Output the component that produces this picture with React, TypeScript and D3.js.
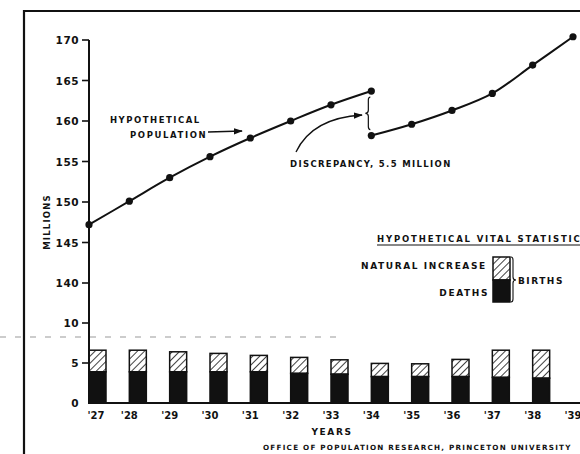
import React from "react";
import * as d3 from "d3";

const yearsBefore = [1927, 1928, 1929, 1930, 1931, 1932, 1933, 1934];
const popBefore = [147.2, 150.1, 153.0, 155.6, 157.9, 160.0, 162.0, 163.7];
const yearsAfter = [1934, 1935, 1936, 1937, 1938, 1939];
const popAfter = [158.2, 159.6, 161.3, 163.4, 166.9, 170.4];

const barYears = [1927, 1928, 1929, 1930, 1931, 1932, 1933, 1934, 1935, 1936, 1937, 1938];
const deaths = [3.9, 3.9, 3.9, 3.9, 3.9, 3.7, 3.6, 3.3, 3.3, 3.3, 3.2, 3.1];
const births = [6.6, 6.6, 6.4, 6.2, 5.95, 5.7, 5.4, 4.95, 4.9, 5.45, 6.6, 6.6];

const yTicks = [0, 5, 10, 140, 145, 150, 155, 160, 165, 170];
const yTickLabels = ["0", "5", "10", "140", "145", "150", "155", "160", "165", "170"];
const xTickYears = [1927, 1928, 1929, 1930, 1931, 1932, 1933, 1934, 1935, 1936, 1937, 1938, 1939];
const xTickLabels = ["'27", "'28", "'29", "'30", "'31", "'32", "'33", "'34", "'35", "'36", "'37", "'38", "'39"];

const FONT = "'DejaVu Sans', sans-serif";

export default function App() {
  const x = d3.scaleLinear().domain([1927, 1939]).range([89, 573]);
  const y = d3.scaleLinear().domain([0, 10, 140, 170]).range([403, 323, 283, 40]);

  const line = d3
    .line<[number, number]>()
    .x((d) => x(d[0]))
    .y((d) => y(d[1]))
    .curve(d3.curveCatmullRom.alpha(0.5));

  const before: [number, number][] = yearsBefore.map((yr, i) => [yr, popBefore[i]]);
  const after: [number, number][] = yearsAfter.map((yr, i) => [yr, popAfter[i]]);
  const barW = 17;

  // discrepancy brace
  const bx = x(1934) - 3;
  const by1 = y(popBefore[popBefore.length - 1]) + 6;
  const by2 = y(popAfter[0]) - 6;
  const bym = (by1 + by2) / 2;
  const braceL = `M${bx + 2},${by1} Q${bx},${by1} ${bx},${by1 + 3} L${bx},${bym - 3} Q${bx},${bym} ${bx - 3},${bym} Q${bx},${bym} ${bx},${bym + 3} L${bx},${by2 - 3} Q${bx},${by2} ${bx + 2},${by2}`;

  // legend
  const lx = 493, ly1 = 257, lym = 280, ly2 = 302, lw = 17;
  const rbx = lx + lw + 3;
  const braceR = `M${rbx - 2},${ly1} Q${rbx},${ly1} ${rbx},${ly1 + 3} L${rbx},${lym - 3} Q${rbx},${lym} ${rbx + 3},${lym} Q${rbx},${lym} ${rbx},${lym + 3} L${rbx},${ly2 - 3} Q${rbx},${ly2} ${rbx - 2},${ly2}`;

  const txt = { fontFamily: FONT, fontWeight: 700 as const, fill: "#111" };

  return (
    <svg
      width={580}
      height={454}
      style={{ position: "absolute", left: 0, top: 0, background: "#fff" }}
    >
      <defs>
        <pattern id="hatch" width="5" height="5" patternUnits="userSpaceOnUse" patternTransform="rotate(45)">
          <rect width="5" height="5" fill="#fff" />
          <line x1="0" y1="0" x2="0" y2="5" stroke="#111" strokeWidth="1.6" />
        </pattern>
        <marker id="arr" viewBox="0 0 10 10" refX="9" refY="5" markerWidth="7" markerHeight="7" orient="auto">
          <path d="M0,1.5 L10,5 L0,8.5 Z" fill="#111" />
        </marker>
      </defs>

      {/* frame */}
      <line x1={24} y1={11} x2={580} y2={11} stroke="#111" strokeWidth={2.2} />
      <line x1={24} y1={10} x2={24} y2={454} stroke="#111" strokeWidth={2.2} />

      {/* break line */}
      <line x1={0} y1={337} x2={340} y2={337} stroke="#999" strokeWidth={1} strokeDasharray="6 9" />

      {/* bars */}
      {barYears.map((yr, i) => (
        <g key={yr}>
          <rect x={x(yr)} y={y(births[i])} width={barW} height={y(deaths[i]) - y(births[i])} fill="url(#hatch)" stroke="#111" strokeWidth={1.5} />
          <rect x={x(yr)} y={y(deaths[i])} width={barW} height={y(0) - y(deaths[i])} fill="#111" stroke="#111" strokeWidth={1.5} />
        </g>
      ))}

      {/* axes */}
      <line x1={89} y1={y(170)} x2={89} y2={y(0)} stroke="#111" strokeWidth={2} />
      <line x1={88} y1={y(0)} x2={580} y2={y(0)} stroke="#111" strokeWidth={2.2} />
      {yTicks.map((t, i) => (
        <g key={t}>
          {t !== 0 && <line x1={82} y1={y(t)} x2={89} y2={y(t)} stroke="#111" strokeWidth={1.6} />}
          <text x={79} y={y(t) + 4} textAnchor="end" fontSize={10.5} {...txt} style={{ letterSpacing: "0.5px" }}>
            {yTickLabels[i]}
          </text>
        </g>
      ))}
      {xTickYears.map((yr, i) => (
        <text key={yr} x={x(yr) + (i === 0 ? 7 : 0)} y={419} textAnchor="middle" fontSize={10} {...txt}>
          {xTickLabels[i]}
        </text>
      ))}

      <text transform="translate(50,222) rotate(-90)" textAnchor="middle" fontSize={8.5} {...txt} style={{ letterSpacing: "1.2px" }}>
        MILLIONS
      </text>
      <text x={332} y={435} textAnchor="middle" fontSize={9} {...txt} style={{ letterSpacing: "1.6px" }}>
        YEARS
      </text>
      <text x={263} y={450} fontSize={7.2} {...txt} style={{ letterSpacing: "1.25px" }}>
        OFFICE OF POPULATION RESEARCH, PRINCETON UNIVERSITY
      </text>

      {/* population line */}
      <path d={line(before) || ""} fill="none" stroke="#111" strokeWidth={2} />
      <path d={line(after) || ""} fill="none" stroke="#111" strokeWidth={2} />
      {before.concat(after).map((d, i) => (
        <circle key={i} cx={x(d[0])} cy={y(d[1])} r={3.6} fill="#111" />
      ))}

      {/* annotations */}
      <text x={110} y={123} fontSize={8.5} {...txt} style={{ letterSpacing: "1.5px" }}>
        HYPOTHETICAL
      </text>
      <text x={130} y={138} fontSize={8.5} {...txt} style={{ letterSpacing: "1.6px" }}>
        POPULATION
      </text>
      <line x1={208} y1={132} x2={242} y2={131} stroke="#111" strokeWidth={1.3} markerEnd="url(#arr)" />

      <path d={braceL} fill="none" stroke="#111" strokeWidth={1.2} />
      <path d="M296,152 Q312,118 362,115" fill="none" stroke="#111" strokeWidth={1.3} markerEnd="url(#arr)" />
      <text x={290} y={167} fontSize={8.5} {...txt} style={{ letterSpacing: "1.35px" }}>
        DISCREPANCY, 5.5 MILLION
      </text>

      {/* legend */}
      <text x={377} y={242} fontSize={8.5} {...txt} style={{ letterSpacing: "1.85px" }}>
        HYPOTHETICAL VITAL STATISTICS
      </text>
      <line x1={377} y1={245} x2={580} y2={245} stroke="#111" strokeWidth={1.2} />
      <rect x={lx} y={ly1} width={lw} height={lym - ly1} fill="url(#hatch)" stroke="#111" strokeWidth={1.5} />
      <rect x={lx} y={lym} width={lw} height={ly2 - lym} fill="#111" stroke="#111" strokeWidth={1.5} />
      <path d={braceR} fill="none" stroke="#111" strokeWidth={1.1} />
      <text x={361} y={269} fontSize={9} {...txt} style={{ letterSpacing: "1.6px" }}>
        NATURAL INCREASE
      </text>
      <text x={489} y={296} textAnchor="end" fontSize={9} {...txt} style={{ letterSpacing: "1.6px" }}>
        DEATHS
      </text>
      <text x={518} y={284} fontSize={9} {...txt} style={{ letterSpacing: "1.5px" }}>
        BIRTHS
      </text>
    </svg>
  );
}
